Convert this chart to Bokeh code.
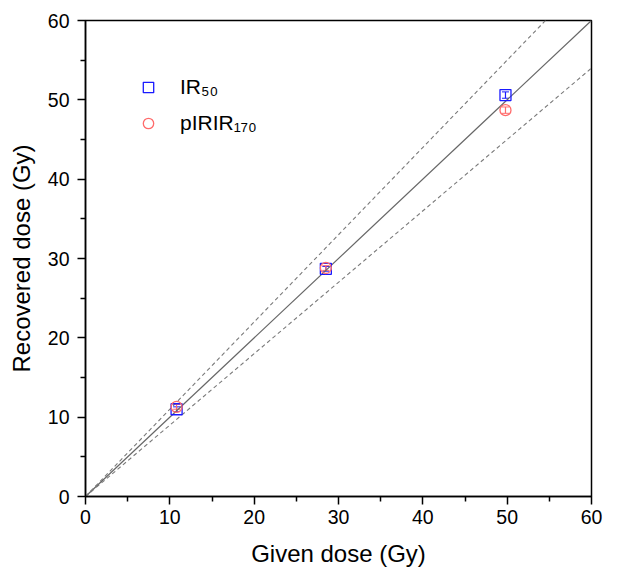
from bokeh.plotting import figure
from bokeh.models import ColumnDataSource, Whisker, Legend, LegendItem, FixedTicker
from bokeh.embed import file_html
from bokeh.resources import INLINE

# Data
given = [10.8, 28.5, 49.8]
ir50 = [11.0, 28.7, 50.6]
ir50_err = [0.3, 0.3, 0.4]
pirir170 = [11.3, 28.8, 48.7]
pirir170_err = [0.3, 0.3, 0.4]
ratio_lines = [1.0, 1.1, 0.9]
line_x = [0, 60]
x_ticks = [0, 10, 20, 30, 40, 50, 60]
y_ticks = [0, 10, 20, 30, 40, 50, 60]
minor = [5, 15, 25, 35, 45, 55]

FONT = "Liberation Sans"

p = figure(width=603, height=569, output_backend="svg", toolbar_location=None,
           x_range=(0, 60), y_range=(0, 60),
           min_border_left=85, min_border_right=12, min_border_top=20, min_border_bottom=73)
p.grid.visible = False
p.outline_line_color = "black"
p.outline_line_width = 1.5
p.background_fill_color = "white"
p.border_fill_color = "white"

for r in ratio_lines:
    ys = [x * r for x in line_x]
    if r == 1.0:
        p.line(line_x, ys, line_color="#666666", line_width=1.2)
    else:
        p.line(line_x, ys, line_color="#7a7a7a", line_width=1.1, line_dash="4 3")

src_ir = ColumnDataSource(dict(x=given, y=ir50,
                               lo=[v - e for v, e in zip(ir50, ir50_err)],
                               hi=[v + e for v, e in zip(ir50, ir50_err)]))
src_pi = ColumnDataSource(dict(x=given, y=pirir170,
                               lo=[v - e for v, e in zip(pirir170, pirir170_err)],
                               hi=[v + e for v, e in zip(pirir170, pirir170_err)]))

BLUE = "#1a1aff"
RED = "#ff6b6b"
for src, col in ((src_ir, BLUE), (src_pi, RED)):
    w = Whisker(source=src, base="x", lower="lo", upper="hi", line_color=col, line_width=1.2)
    w.upper_head.line_color = col
    w.lower_head.line_color = col
    w.upper_head.size = 7
    w.lower_head.size = 7
    p.add_layout(w)

r1 = p.scatter("x", "y", source=src_ir, marker="square", size=11, fill_color=None,
               line_color=BLUE, line_width=1.3)
r2 = p.scatter("x", "y", source=src_pi, marker="circle", size=11, fill_color=None,
               line_color=RED, line_width=1.3)

legend = Legend(items=[LegendItem(label="IR₅₀", renderers=[r1]),
                       LegendItem(label="pIRIR₁₇₀", renderers=[r2])],
                location=(50, 360), background_fill_alpha=0, border_line_color=None,
                glyph_width=26, glyph_height=26, label_height=26, spacing=10,
                padding=0, margin=0, label_standoff=19,
                label_text_font=FONT, label_text_font_size="21px",
                label_text_color="black")
p.add_layout(legend)

for ax, ticks in ((p.xaxis, x_ticks), (p.yaxis, y_ticks)):
    ax.ticker = FixedTicker(ticks=ticks, minor_ticks=minor)
    ax.axis_line_color = "black"
    ax.axis_line_width = 1.5
    ax.major_tick_line_color = "black"
    ax.major_tick_line_width = 1.5
    ax.minor_tick_line_color = "black"
    ax.minor_tick_line_width = 1.5
    ax.major_tick_out = 8
    ax.major_tick_in = 0
    ax.minor_tick_out = 5
    ax.minor_tick_in = 0
    ax.major_label_text_font = FONT
    ax.major_label_text_font_size = "19.5px"
    ax.major_label_text_color = "black"
    ax.axis_label_text_font = FONT
    ax.axis_label_text_font_size = "24px"
    ax.axis_label_text_font_style = "normal"
    ax.axis_label_text_color = "black"

p.xaxis.axis_label = "Given dose (Gy)"
p.yaxis.axis_label = "Recovered dose (Gy)"
p.xaxis.major_label_standoff = 5
p.yaxis.major_label_standoff = 8
p.xaxis.axis_label_standoff = 13
p.yaxis.axis_label_standoff = 10

open("out.html", "w").write(file_html(p, INLINE))
